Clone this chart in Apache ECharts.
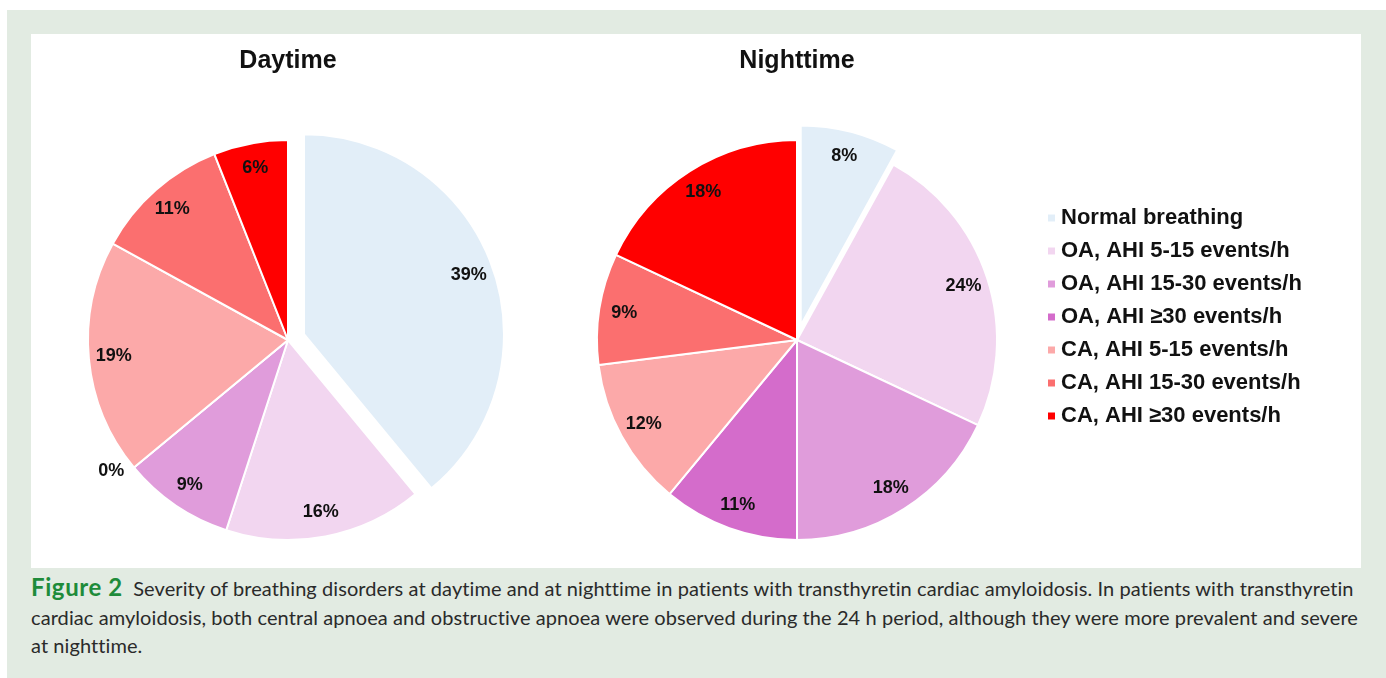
<!DOCTYPE html>
<html>
<head>
<meta charset="utf-8">
<script src="https://cdn.jsdelivr.net/npm/echarts@6/dist/echarts.min.js"></script>
<style>
html, body { margin: 0; padding: 0; background: #fff; }
#page { position: relative; width: 1386px; height: 678px; overflow: hidden; }
#frame { position: absolute; left: 7px; top: 10px; right: 0; bottom: 0; background: #e2ebe2; }
#main { position: absolute; left: 31px; top: 34px; width: 1330px; height: 534px; background: #fff; }
#cap { position: absolute; left: 31px; top: 573px; width: 1350px; font-family: Lato, "Open Sans", sans-serif;
  font-size: 20px; letter-spacing: 0.08px; line-height: 28.5px; color: #2a2a2a; white-space: nowrap; }
#cap b { color: #1e8b3a; font-size: 24px; letter-spacing: 0.6px; }
</style>
</head>
<body>
<div id="page">
  <div id="frame"></div>
  <div id="main"></div>
  <div id="cap"><b>Figure 2</b>&nbsp; Severity of breathing disorders at daytime and at nighttime in patients with transthyretin cardiac amyloidosis. In patients with transthyretin<br>cardiac amyloidosis, both central apnoea and obstructive apnoea were observed during the 24 h period, although they were more prevalent and severe<br>at nighttime.</div>
</div>
<script>
// 类别与数值（百分比）
var categories = ['Normal breathing', 'OA, AHI 5-15 events/h', 'OA, AHI 15-30 events/h', 'OA, AHI \u226530 events/h',
	'CA, AHI 5-15 events/h', 'CA, AHI 15-30 events/h', 'CA, AHI \u226530 events/h'];
var colors = ['#e2eef8', '#f2d6f0', '#e09cdb', '#d46ccb', '#fca9a9', '#fb6f6f', '#ff0000'];
var daytime = [39, 16, 9, 0, 19, 11, 6];
var nighttime = [8, 24, 18, 11, 12, 9, 18];

var FONT = '"Liberation Sans", Arial, sans-serif';

function pieData(values, forLabels){
	var arr = [];
	for(var i = 0; i < values.length; i++){
		var d = {
			name: categories[i],
			value: values[i],
			selected: i == 0,
			itemStyle: forLabels ? { color: 'rgba(0,0,0,0)', borderWidth: 0 } : { color: colors[i] }
		};
		if(forLabels && values[i] == 0){
			// 0% 标签放在外侧
			d.label = { position: 'outside' };
			d.labelLine = { show: false, length: 6, length2: 0 };
		}
		arr.push(d);
	}
	return arr;
}

function pieSeries(values, center, offset){
	return [{
		type: 'pie',
		center: center,
		radius: [0, 200],
		startAngle: 90,
		selectedMode: 'single',
		selectedOffset: offset,
		avoidLabelOverlap: false,
		silent: true,
		label: { show: false },
		labelLine: { show: false },
		itemStyle: { borderColor: '#fff', borderWidth: 2 },
		emphasis: { disabled: true },
		data: pieData(values, false)
	}, {
		// 只用来放标签，位置在靠外的一圈
		type: 'pie',
		center: center,
		radius: [144, 200],
		startAngle: 90,
		selectedMode: 'single',
		selectedOffset: offset,
		avoidLabelOverlap: false,
		silent: true,
		legendHoverLink: false,
		label: {
			show: true,
			position: 'inside',
			formatter: '{c}%',
			color: '#111',
			fontFamily: FONT,
			fontWeight: 'bold',
			fontSize: 18
		},
		labelLine: { show: false },
		emphasis: { disabled: true },
		data: pieData(values, true)
	}];
}

var myChart = echarts.init(document.getElementById('main'));
var series = pieSeries(daytime, [257, 306], 17).concat(pieSeries(nighttime, [766, 306], 15));
var option = {
	animation: false,
	color: colors,
	graphic: [
		{ type: 'text', x: 257, y: 27, style: { text: 'Daytime', align: 'center', verticalAlign: 'middle',
			fill: '#111', font: 'bold 25px ' + FONT } },
		{ type: 'text', x: 766, y: 27, style: { text: 'Nighttime', align: 'center', verticalAlign: 'middle',
			fill: '#111', font: 'bold 25px ' + FONT } }
	],
	legend: {
		orient: 'vertical',
		left: 1010,
		top: 167,
		icon: 'rect',
		itemWidth: 9,
		itemHeight: 9,
		itemGap: 9,
		selectedMode: false,
		data: categories,
		textStyle: { color: '#111', fontFamily: FONT, fontWeight: 'bold', fontSize: 22, lineHeight: 24 }
	},
	series: series
};
myChart.setOption(option);
</script>
</body>
</html>
